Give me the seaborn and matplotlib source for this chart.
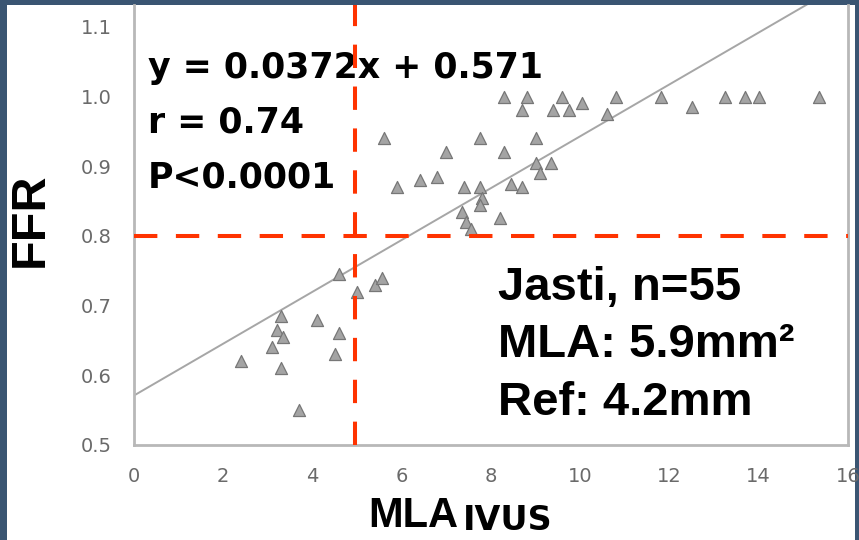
import matplotlib
matplotlib.use('Agg')
import matplotlib.pyplot as plt
import seaborn as sns
import pandas as pd
from matplotlib.patches import Rectangle

# values
mla_ivus = [2.4, 3.3, 3.1, 3.2, 3.3, 3.35, 3.7, 4.1, 4.6, 4.5, 4.6, 5.0, 5.4, 5.55,
            5.6, 5.9, 6.4, 6.8, 7.0, 7.75, 8.3, 9.0, 7.4, 7.75, 7.8, 8.45, 8.7,
            7.35, 7.45, 7.55, 7.75, 8.2, 9.0, 9.35, 9.1,
            8.3, 8.8, 8.7, 9.6, 9.4, 9.75, 10.05, 10.8, 10.6, 11.8, 12.5, 13.25,
            13.7, 14.0, 15.35]
ffr = [0.62, 0.61, 0.64, 0.665, 0.685, 0.655, 0.55, 0.68, 0.66, 0.63, 0.745, 0.72, 0.73, 0.74,
       0.94, 0.87, 0.88, 0.885, 0.92, 0.94, 0.92, 0.94, 0.87, 0.87, 0.855, 0.875, 0.87,
       0.835, 0.82, 0.81, 0.845, 0.825, 0.905, 0.905, 0.89,
       1.0, 1.0, 0.98, 1.0, 0.98, 0.98, 0.99, 1.0, 0.975, 1.0, 0.985, 1.0,
       1.0, 1.0, 1.0]

slope = 0.0372
intercept = 0.571
mla_cut = 4.95
ffr_cut = 0.8

x_ticks = [0, 2, 4, 6, 8, 10, 12, 14, 16]
y_ticks = [0.5, 0.6, 0.7, 0.8, 0.9, 1.0, 1.1]
y_tick_labels = ['0.5', '0.6', '0.7', '0.8', '0.9', '1.0', '1.1']

eq_lines = ['y = 0.0372x + 0.571', 'r = 0.74', 'P<0.0001']
box_lines = ['Jasti, n=55', 'MLA: 5.9mm\u00b2', 'Ref: 4.2mm']

W, H = 859, 540
sns.set_style('white')

fig = plt.figure(figsize=(W / 100, H / 100), dpi=100, facecolor='#3a5572')
fig.add_artist(Rectangle((7 / W, 0), (855 - 7) / W, 535 / H, transform=fig.transFigure,
                         facecolor='white', edgecolor='none', zorder=0))

ax = fig.add_axes([134 / W, 95 / H, (848 - 134) / W, 440 / H])
ax.set_facecolor('white')

df = pd.DataFrame({'mla': mla_ivus, 'ffr': ffr})
sns.scatterplot(data=df, x='mla', y='ffr', marker='^', s=75, color='#a4a4a4',
                edgecolor='#777777', linewidth=0.9, ax=ax, zorder=3)

line_x = [x_ticks[0], x_ticks[-1]]
line_y = [intercept + slope * v for v in line_x]
sns.lineplot(x=line_x, y=line_y, color='#a6a6a6', linewidth=1.4, ax=ax, zorder=2)

red = '#ff3300'
ax.axvline(mla_cut, color=red, linewidth=2.9, linestyle=(0, (5.8, 4.6)), zorder=6)
ax.axhline(ffr_cut, color=red, linewidth=2.9, linestyle=(0, (5.8, 4.6)), zorder=6)

ax.set_xlim(0, 16)
ax.set_ylim(0.5, 0.5 + 440 / 697)
ax.set_xticks(x_ticks)
ax.set_yticks(y_ticks)
ax.set_yticklabels(y_tick_labels)
ax.set_xlabel('')
ax.set_ylabel('')
ax.tick_params(axis='both', direction='out', length=5, width=1.5, color='#b5b5b5',
               labelcolor='#6a6a6a', labelsize=14, pad=11)
ax.spines['top'].set_visible(False)
for side in ['left', 'bottom', 'right']:
    ax.spines[side].set_color('#b8b8b8')
    ax.spines[side].set_linewidth(2)

# regression statistics (under the red lines, like the reference)
for txt, base in zip(eq_lines, [78, 133, 188]):
    ax.text(148 / W, 1 - base / H, txt, transform=fig.transFigure, fontsize=25,
            fontweight='bold', family='DejaVu Sans', va='baseline', color='black', zorder=4)

for txt, base in zip(box_lines, [300, 357, 415]):
    fig.text(498 / W, 1 - base / H, txt, fontsize=34, fontweight='bold',
             family='Liberation Sans', va='baseline', color='black')

fig.text(30 / W, 1 - 220 / H, 'FFR', rotation=90, ha='center', va='center', fontsize=35,
         fontweight='bold', family='Liberation Sans', color='black')
fig.text(368 / W, 1 - 527 / H, 'MLA', fontsize=30, fontweight='bold',
         family='Liberation Sans', va='baseline', color='black')
fig.text(463 / W, 1 - 530 / H, 'IVUS', fontsize=24, fontweight='bold',
         family='DejaVu Sans', va='baseline', color='black')

fig.savefig('out.png', dpi=100, facecolor=fig.get_facecolor())
